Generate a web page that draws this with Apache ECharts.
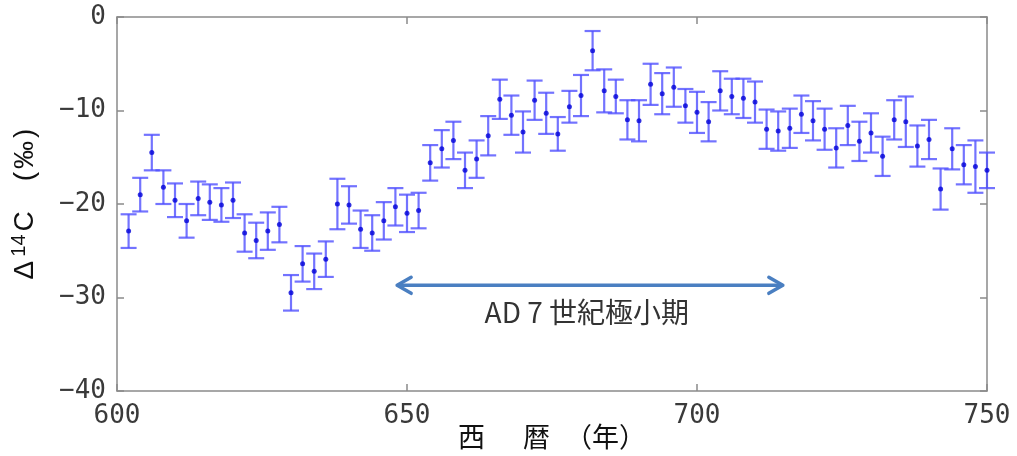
<!DOCTYPE html>
<html>
<head>
<meta charset="utf-8">
<style>
  html, body { margin: 0; padding: 0; background: #fff; }
  #chart { width: 1017px; height: 456px; }
</style>
<script src="https://cdn.jsdelivr.net/npm/echarts@6/dist/echarts.min.js"></script>
</head>
<body>
<div id="chart"></div>
<script>
// Radiocarbon record, AD 602–750 (two-year resolution)
const years = [
  602, 604, 606, 608, 610, 612, 614, 616, 618, 620,
  622, 624, 626, 628, 630, 632, 634, 636, 638, 640,
  642, 644, 646, 648, 650, 652, 654, 656, 658, 660,
  662, 664, 666, 668, 670, 672, 674, 676, 678, 680,
  682, 684, 686, 688, 690, 692, 694, 696, 698, 700,
  702, 704, 706, 708, 710, 712, 714, 716, 718, 720,
  722, 724, 726, 728, 730, 732, 734, 736, 738, 740,
  742, 744, 746, 748, 750
];
// Δ14C (‰)
const delta14C = [
  -22.9, -19.0, -14.5, -18.2, -19.6, -21.8, -19.4, -19.8, -20.1, -19.6,
  -23.1, -23.9, -22.9, -22.2, -29.5, -26.4, -27.2, -25.9, -20.0, -20.1,
  -22.7, -23.1, -21.8, -20.3, -21.0, -20.7, -15.6, -14.1, -13.2, -16.4,
  -15.2, -12.7, -8.8, -10.5, -12.3, -8.9, -10.3, -12.5, -9.6, -8.4,
  -3.6, -7.9, -8.5, -11.0, -11.1, -7.2, -8.2, -7.5, -9.5, -10.2,
  -11.2, -7.9, -8.5, -8.7, -9.1, -12.0, -12.2, -11.9, -10.4, -11.1,
  -12.0, -14.0, -11.6, -13.3, -12.4, -14.9, -11.0, -11.2, -13.8, -13.1,
  -18.4, -14.1, -15.8, -16.0, -16.4
];
// 1σ uncertainty (‰)
const sigma = [
  1.8, 1.8, 1.9, 1.8, 1.8, 1.8, 1.8, 1.9, 1.8, 1.9,
  2.0, 1.9, 2.0, 1.9, 1.9, 1.9, 1.9, 1.9, 2.7, 2.0,
  2.0, 1.9, 2.0, 2.0, 2.0, 1.9, 1.9, 2.0, 2.0, 1.9,
  2.0, 2.1, 2.1, 2.1, 2.2, 2.1, 2.2, 1.8, 1.7, 2.2,
  2.1, 2.3, 1.8, 2.1, 2.2, 2.2, 2.2, 2.1, 1.8, 2.2,
  2.1, 2.1, 1.9, 2.1, 2.2, 2.1, 2.1, 2.1, 2.0, 2.1,
  2.2, 2.1, 2.1, 2.1, 2.1, 2.1, 2.1, 2.7, 2.2, 2.1,
  2.2, 2.2, 2.1, 2.8, 1.9
];
// Axis ticks
const xTicks = [600, 650, 700, 750];
const yTicks = [-40, -30, -20, -10, 0];
// Span of the 7th-century minimum and where its arrow sits
const minimumSpan = [648.3, 714.8];
const arrowLevel = -28.7;
const labelPosition = [681.0, -31.6];
const minimumLabel = 'AD 7 世紀極小期';

const chart = echarts.init(document.getElementById('chart'), null, { renderer: 'canvas' });

const points = years.map((y, i) => [y, delta14C[i]]);
const bars = years.map((y, i) => [y, delta14C[i] - sigma[i], delta14C[i] + sigma[i]]);

const frameColor = '#8a8a8a';
const tickFont = { fontFamily: 'DejaVu Sans Mono', fontSize: 26, color: '#3a3a3a' };
const minusFmt = v => String(v).replace('-', '\u2212');

const baseX = {
  type: 'value', min: xTicks[0], max: xTicks[xTicks.length - 1], interval: 50,
  splitLine: { show: false },
  axisLine: { show: true, onZero: false, lineStyle: { color: frameColor, width: 1.5 } },
  axisTick: { show: true, inside: true, length: 7, lineStyle: { color: frameColor, width: 1.5 } }
};
const baseY = {
  type: 'value', min: yTicks[0], max: yTicks[yTicks.length - 1], interval: 10,
  splitLine: { show: false },
  axisLine: { show: true, onZero: false, lineStyle: { color: frameColor, width: 1.5 } },
  axisTick: { show: true, inside: true, length: 7, lineStyle: { color: frameColor, width: 1.5 } }
};

const nameFont = { fontFamily: 'Noto Sans CJK JP', fontSize: 27, color: '#111', lineHeight: 30 };
const yNameFont = { fontFamily: 'Liberation Sans', fontSize: 28, color: '#111', lineHeight: 32 };

const option = {
  animation: false,
  backgroundColor: '#ffffff',
  grid: { left: 117, right: 30, top: 17, bottom: 65, containLabel: false, outerBoundsMode: 'none' },
  xAxis: [
    Object.assign({}, baseX, {
      position: 'bottom',
      axisLabel: Object.assign({ margin: 12, formatter: minusFmt }, tickFont),
      name: '{a|西}{b|暦}{c|（年）}',
      nameLocation: 'middle',
      nameGap: 31,
      nameMoveOverlap: false,
      nameTextStyle: {
        rich: {
          a: Object.assign({}, nameFont),
          b: Object.assign({ padding: [0, 0, 0, 38] }, nameFont),
          c: Object.assign({ padding: [0, 0, 0, 15] }, nameFont)
        }
      }
    }),
    Object.assign({}, baseX, { position: 'top', axisLabel: { show: false } })
  ],
  yAxis: [
    Object.assign({}, baseY, {
      position: 'left',
      axisLabel: Object.assign({ margin: 11, formatter: minusFmt }, tickFont),
      name: '{d|Δ}{s|14}{d|C}{o|(}{m|‰}{d|)}',
      nameLocation: 'middle',
      nameRotate: 90,
      nameGap: 76,
      nameMoveOverlap: false,
      nameTextStyle: {
        rich: {
          d: Object.assign({}, yNameFont),
          s: { fontFamily: 'Liberation Sans', fontSize: 20, color: '#111', lineHeight: 32,
               verticalAlign: 'top', padding: [0, 3, 12, 4] },
          o: Object.assign({ padding: [0, 3, 0, 30] }, yNameFont),
          m: Object.assign({ padding: [0, 3, 0, 0] }, yNameFont)
        }
      }
    }),
    Object.assign({}, baseY, { position: 'right', axisLabel: { show: false } })
  ],
  series: [
    {
      // error bars with caps
      type: 'custom',
      xAxisIndex: 0, yAxisIndex: 0,
      data: bars,
      renderItem: function (params, api) {
        const x = api.value(0);
        const lo = api.coord([x, api.value(1)]);
        const hi = api.coord([x, api.value(2)]);
        const cap = 8;
        const style = { stroke: 'rgba(80, 80, 255, 0.8)', lineWidth: 2.2, fill: null };
        return {
          type: 'group',
          children: [
            { type: 'line', shape: { x1: lo[0], y1: lo[1], x2: hi[0], y2: hi[1] }, style: style },
            { type: 'line', shape: { x1: lo[0] - cap, y1: lo[1], x2: lo[0] + cap, y2: lo[1] }, style: style },
            { type: 'line', shape: { x1: hi[0] - cap, y1: hi[1], x2: hi[0] + cap, y2: hi[1] }, style: style }
          ]
        };
      },
      silent: true,
      z: 2
    },
    {
      type: 'scatter',
      xAxisIndex: 0, yAxisIndex: 0,
      data: points,
      symbol: 'circle',
      symbolSize: 5,
      itemStyle: { color: '#0000d8' },
      z: 3
    },
    {
      // double-headed arrow marking the minimum and its caption
      type: 'custom',
      xAxisIndex: 0, yAxisIndex: 0,
      data: [[minimumSpan[0], minimumSpan[1], arrowLevel, labelPosition[0], labelPosition[1]]],
      renderItem: function (params, api) {
        const a = api.coord([api.value(0), api.value(2)]);
        const b = api.coord([api.value(1), api.value(2)]);
        const t = api.coord([api.value(3), api.value(4)]);
        const hl = 14, hw = 8;
        const style = { stroke: '#4a7fc1', lineWidth: 3.5, fill: null, lineCap: 'round', lineJoin: 'round' };
        return {
          type: 'group',
          children: [
            { type: 'line', shape: { x1: a[0] + 1, y1: a[1], x2: b[0] - 1, y2: b[1] }, style: style },
            { type: 'polyline', shape: { points: [[a[0] + hl, a[1] - hw], [a[0], a[1]], [a[0] + hl, a[1] + hw]] }, style: style },
            { type: 'polyline', shape: { points: [[b[0] - hl, b[1] - hw], [b[0], b[1]], [b[0] - hl, b[1] + hw]] }, style: style },
            {
              type: 'text',
              x: t[0], y: t[1],
              style: {
                text: minimumLabel,
                fontFamily: 'Noto Sans CJK JP',
                fontSize: 28,
                fill: '#333',
                align: 'center',
                verticalAlign: 'middle'
              }
            }
          ]
        };
      },
      silent: true,
      z: 4
    }
  ]
};

chart.setOption(option);
</script>
</body>
</html>
